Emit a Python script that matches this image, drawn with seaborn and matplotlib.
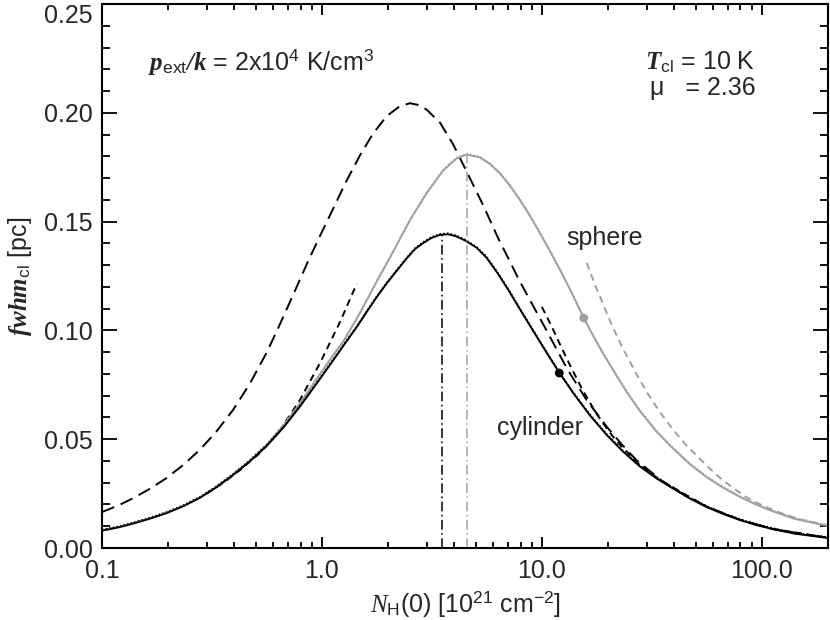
import numpy as np
import matplotlib
matplotlib.use('Agg')
import matplotlib.pyplot as plt
import matplotlib.transforms as mtransforms
from matplotlib.ticker import LogLocator, MultipleLocator, NullFormatter, FormatStrFormatter
import seaborn as sns

# cylinder (black solid / dotted)
cyl_N = [0.1, 0.12, 0.139, 0.165, 0.197, 0.235, 0.279, 0.33, 0.394, 0.47, 0.562, 0.67,
         0.794, 0.94, 1.12, 1.29, 1.45, 1.60, 1.78, 1.97, 2.2, 2.43, 2.65, 2.89, 3.15, 3.44,
         3.75, 4.09, 4.5, 5.05, 5.6, 6.32, 7.05, 7.94, 8.8, 9.79, 10.9, 12.0, 13.8, 16.5,
         19.7, 23.4, 27.9, 33.2, 39.4, 47, 56.2, 67, 79.4, 94, 112, 141, 200]
cyl_fwhm = [0.0080, 0.0096, 0.0113, 0.0135, 0.0161, 0.0193, 0.0231, 0.0278, 0.0335, 0.0398,
            0.0470, 0.0555, 0.0650, 0.0752, 0.0860, 0.0948, 0.1020, 0.1086, 0.1155, 0.1216,
            0.1277, 0.1331, 0.1374, 0.1402, 0.1425, 0.1439, 0.1442, 0.1432, 0.1412, 0.1380,
            0.1335, 0.1260, 0.1185, 0.1098, 0.1024, 0.0948, 0.0872, 0.0806, 0.0716, 0.0611,
            0.0520, 0.0443, 0.0375, 0.0320, 0.0274, 0.0228, 0.0188, 0.0156, 0.0129, 0.0106,
            0.0087, 0.0066, 0.0046]

# sphere (grey solid / dotted)
sph_N = [0.1, 0.12, 0.139, 0.165, 0.197, 0.235, 0.279, 0.33, 0.394, 0.47, 0.562, 0.67,
         0.794, 0.94, 1.12, 1.25, 1.49, 1.77, 2.11, 2.51, 2.99, 3.56, 4.09, 4.55, 5.22, 5.8,
         6.44, 7.16, 7.94, 8.82, 9.8, 10.9, 12.1, 13.4, 15.5, 17.2, 19.0, 21.9, 24.3, 27.9,
         33.2, 39.4, 47, 56.2, 67, 79.4, 94, 112, 141, 200]
sph_fwhm = [0.0080, 0.0096, 0.0113, 0.0135, 0.0161, 0.0193, 0.0232, 0.0279, 0.0337, 0.0401,
            0.0475, 0.0564, 0.0664, 0.0772, 0.0883, 0.0948, 0.1080, 0.1222, 0.1362, 0.1505,
            0.1630, 0.1735, 0.1790, 0.1808, 0.1795, 0.1765, 0.1722, 0.1665, 0.1600, 0.1527,
            0.1447, 0.1363, 0.1277, 0.1190, 0.1057, 0.0971, 0.0893, 0.0790, 0.0717, 0.0630,
            0.0535, 0.0458, 0.0386, 0.0325, 0.0276, 0.0235, 0.0200, 0.0169, 0.0134, 0.0101]

# long dashed (black)
ld_N = [0.1, 0.12, 0.138, 0.165, 0.197, 0.235, 0.279, 0.33, 0.394, 0.47, 0.562, 0.632,
        0.741, 0.867, 0.997, 1.125, 1.29, 1.49, 1.71, 1.97, 2.26, 2.51, 2.75, 2.99, 3.44,
        3.95, 4.55, 5.41, 6.32, 7.94, 10.5, 13.0, 16.0, 19.7, 23.0, 26.9, 35.5, 45, 56.2,
        79.4, 112, 200]
ld_fwhm = [0.0165, 0.0198, 0.0228, 0.0272, 0.0322, 0.0383, 0.0452, 0.0533, 0.0634, 0.0755,
           0.0900, 0.1010, 0.1165, 0.1320, 0.1450, 0.1560, 0.1685, 0.1805, 0.1905, 0.1985,
           0.2030, 0.2044, 0.2036, 0.2015, 0.1955, 0.1855, 0.1730, 0.1575, 0.1425, 0.1225,
           0.1000, 0.0825, 0.0679, 0.0558, 0.0478, 0.0404, 0.0305, 0.0240, 0.0190, 0.0130,
           0.0087, 0.0046]

# short dashed, low column density branch (black)
sdl_N = [0.30, 0.36, 0.424, 0.523, 0.645, 0.794, 0.98, 1.21, 1.44]
sdl_fwhm = [0.0250, 0.0303, 0.0358, 0.0437, 0.0542, 0.0680, 0.0850, 0.1040, 0.1215]

# short dashed, high column density branch (black)
sdr_N = [10.0, 11.0, 12.1, 13.5, 15.2, 17.5, 19.7, 21.9, 26.9, 32, 37.0, 45.6, 56.2, 67,
         79.4, 112, 200]
sdr_fwhm = [0.1108, 0.1025, 0.0935, 0.0835, 0.0733, 0.0625, 0.0550, 0.0490, 0.0397, 0.0335,
            0.0295, 0.0242, 0.0190, 0.0157, 0.0130, 0.0088, 0.0047]

# short dashed, sphere (grey)
sds_N = [16.0, 17.5, 19.0, 21.0, 23.4, 26.9, 30.5, 34.4, 39.4, 45.6, 52, 62.4, 73, 85.5,
         100, 120, 150, 200]
sds_fwhm = [0.1310, 0.1205, 0.1120, 0.1015, 0.0915, 0.0800, 0.0705, 0.0625, 0.0545, 0.0470,
            0.0412, 0.0335, 0.0280, 0.0232, 0.0197, 0.0163, 0.0131, 0.0103]

# peaks and marked points
cyl_peak_N, cyl_peak_fwhm = 3.51, 0.1442
sph_peak_N, sph_peak_fwhm = 4.56, 0.1808
cyl_dot = (12.0, 0.0804)
sph_dot = (15.5, 0.1057)

GREY = '#a0a0a0'
FS = 18

sns.set_style("ticks")
plt.rcParams['font.family'] = ['Liberation Sans', 'DejaVu Sans']
plt.rcParams['mathtext.fontset'] = 'custom'
plt.rcParams['mathtext.rm'] = 'Liberation Sans'
plt.rcParams['mathtext.it'] = 'Liberation Serif:italic'
plt.rcParams['mathtext.bf'] = 'Liberation Serif:italic:bold'
plt.rcParams['lines.scale_dashes'] = False

fig = plt.figure(figsize=(8.3, 6.2), dpi=100)
ax = fig.add_axes([102 / 830, 72 / 620, 726 / 830, 544 / 620])
ax.set_xscale('log')

lw = 1.4
long_dash = (0, (9.5, 5))
short_dash = (0, (5, 3.6))
dash_dot = (0, (7, 2.5, 1.2, 2.5))

sns.lineplot(x=ld_N, y=ld_fwhm, ax=ax, color='black', lw=lw, linestyle=long_dash,
             estimator=None, sort=False)
sns.lineplot(x=sdl_N, y=sdl_fwhm, ax=ax, color='black', lw=lw, linestyle=short_dash,
             estimator=None, sort=False)
sns.lineplot(x=sdr_N, y=sdr_fwhm, ax=ax, color='black', lw=lw, linestyle=short_dash,
             estimator=None, sort=False)
sns.lineplot(x=sds_N, y=sds_fwhm, ax=ax, color=GREY, lw=lw, linestyle=short_dash,
             estimator=None, sort=False)

sns.lineplot(x=sph_N, y=sph_fwhm, ax=ax, color=GREY, lw=lw, estimator=None, sort=False)
sns.lineplot(x=cyl_N, y=cyl_fwhm, ax=ax, color='black', lw=lw, estimator=None, sort=False)

# dotted curves lying almost on top of the solid ones
shift = ax.transData + mtransforms.ScaledTranslation(0, 0.8 / 72, fig.dpi_scale_trans)
sns.lineplot(x=sph_N, y=sph_fwhm, ax=ax, color=GREY, lw=1.0, linestyle=':',
             estimator=None, sort=False, transform=shift)
sns.lineplot(x=cyl_N, y=cyl_fwhm, ax=ax, color='black', lw=1.0, linestyle=':',
             estimator=None, sort=False, transform=shift)

# vertical lines at the peaks
sns.lineplot(x=[cyl_peak_N, cyl_peak_N], y=[0, cyl_peak_fwhm], ax=ax, color='black',
             lw=1.1, linestyle=dash_dot, estimator=None, sort=False)
sns.lineplot(x=[sph_peak_N, sph_peak_N], y=[0, sph_peak_fwhm], ax=ax, color=GREY,
             lw=1.1, linestyle=dash_dot, estimator=None, sort=False)

sns.scatterplot(x=[cyl_dot[0]], y=[cyl_dot[1]], ax=ax, color='black', s=40,
                edgecolor='none', zorder=5)
sns.scatterplot(x=[sph_dot[0]], y=[sph_dot[1]], ax=ax, color=GREY, s=40,
                edgecolor='none', zorder=5)

ax.set_xlim(0.1, 200)
ax.set_ylim(0, 0.25)
ax.set_xticks([0.1, 1, 10, 100])
ax.set_xticklabels(['0.1', '1.0', '10.0', '100.0'])
ax.xaxis.set_minor_locator(LogLocator(base=10, subs=np.arange(2, 10) * 1.0, numticks=20))
ax.xaxis.set_minor_formatter(NullFormatter())
ax.yaxis.set_major_locator(MultipleLocator(0.05))
ax.yaxis.set_minor_locator(MultipleLocator(0.01))
ax.yaxis.set_major_formatter(FormatStrFormatter('%.2f'))

ax.tick_params(which='both', direction='in', top=True, right=True, width=1.3,
               labelsize=FS, color='black')
ax.tick_params(axis='x', which='major', length=8, pad=8)
ax.tick_params(axis='x', which='minor', length=4.5)
ax.tick_params(axis='y', which='major', length=11, pad=6.5)
ax.tick_params(axis='y', which='minor', length=5.5)
for sp in ax.spines.values():
    sp.set_linewidth(1.5)
    sp.set_color('black')

ax.set_xlabel(r'$\mathit{N}_\mathrm{H}$(0) [10$^{21}$ cm$^{-2}$]', fontsize=FS, labelpad=4)
ax.set_ylabel(r'$\mathbf{fwhm}_\mathrm{cl}$ [pc]', fontsize=FS, labelpad=7)

ax.text(0.0634, 0.893, r'$\mathbf{p}_\mathrm{ext}\mathbf{/k}$ = 2x10$^4$ K/cm$^3$',
        transform=ax.transAxes, fontsize=FS, va='center', ha='left')
ax.text(0.748, 0.893, r'$\mathbf{T}_\mathrm{cl}$ = 10 K', transform=ax.transAxes,
        fontsize=FS, va='center', ha='left')
ax.text(0.755, 0.845, 'μ   = 2.36', transform=ax.transAxes,
        fontsize=FS, va='center', ha='left')
ax.text(0.640, 0.570, 'sphere', transform=ax.transAxes, fontsize=FS, va='center', ha='left')
ax.text(0.662, 0.221, 'cylinder', transform=ax.transAxes, fontsize=FS, va='center', ha='right')

fig.canvas.draw()
for lab in ax.get_yticklabels():
    if lab.get_text() == '0.25':
        lab.set_va('top')

fig.savefig('out.png', dpi=100)
